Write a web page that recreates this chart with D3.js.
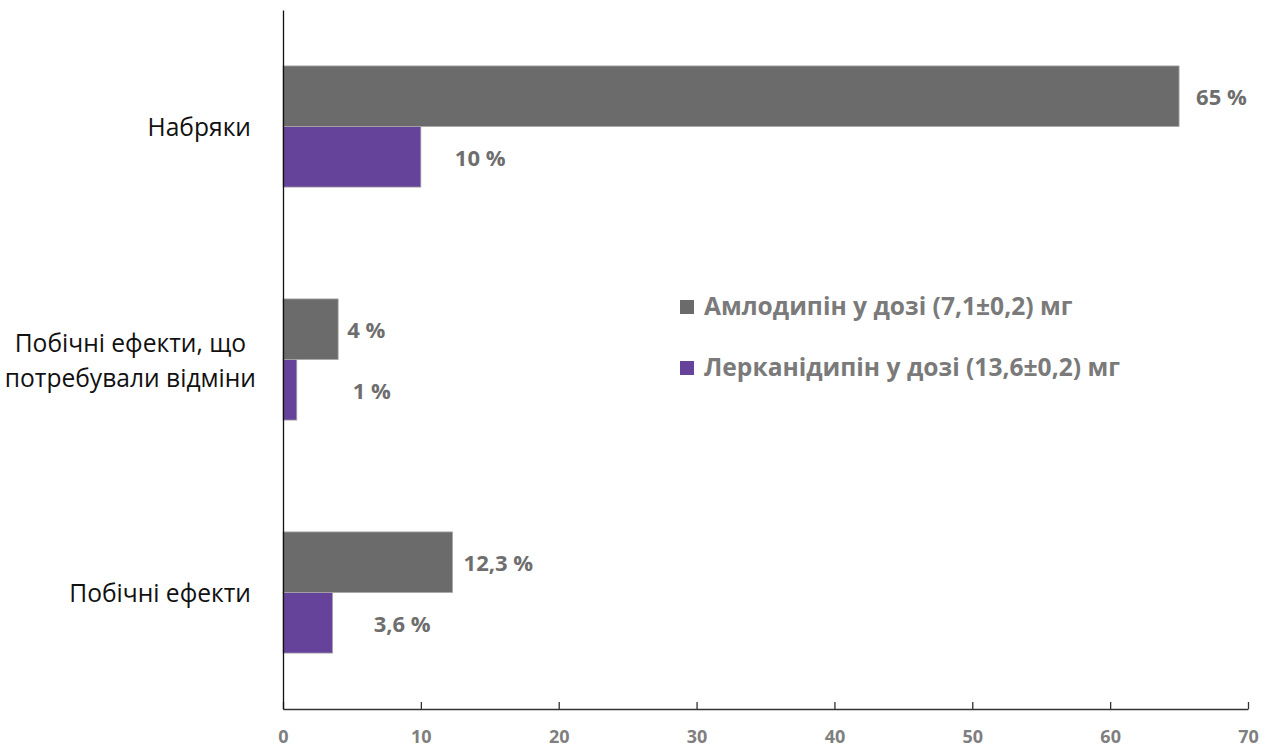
<!DOCTYPE html>
<html>
<head>
<meta charset="utf-8">
<script src="https://cdn.jsdelivr.net/npm/d3@7"></script>
<style>
  html, body { margin: 0; padding: 0; background: #fff; }
  svg { display: block; }
</style>
</head>
<body>
<svg id="chart" width="1269" height="747"></svg>
<script>
// Categories (top to bottom) and the two series, in percent
const categories = ["Набряки", "Побічні ефекти, що потребували відміни", "Побічні ефекти"];
const categoryLines = [["Набряки"], ["Побічні ефекти, що", "потребували відміни"], ["Побічні ефекти"]];
const seriesNames = ["Амлодипін у дозі (7,1±0,2) мг", "Лерканідипін у дозі (13,6±0,2) мг"];
const amlodipine = [65, 4, 12.3];
const lercanidipine = [10, 1, 3.6];
const valueLabels = [["65 %", "4 %", "12,3 %"], ["10 %", "1 %", "3,6 %"]];
const xTicks = [0, 10, 20, 30, 40, 50, 60, 70];

// Horizontal nudge of each value label past its bar end (px)
const labelNudge = [[17, 9, 11], [34, 56, 41]];

const colors = ["#6b6b6b", "#66439a"];
const FONT = "'Open Sans', Lato, sans-serif";

const svg = d3.select("#chart");
const margin = { left: 283, right: 21, top: 10, bottom: 38 };
const W = 1269, H = 747;

const x = d3.scaleLinear().domain([0, 70]).range([margin.left, W - margin.right]);
const y = d3.scaleBand().domain(categories).range([margin.top, H - margin.bottom]).paddingInner(0.48).paddingOuter(0.24);
const sub = d3.scaleBand().domain([0, 1]).range([0, y.bandwidth()]);

const series = [amlodipine, lercanidipine];

// Bars
series.forEach((vals, s) => {
  svg.append("g").selectAll("rect")
    .data(vals)
    .join("rect")
    .attr("x", x(0))
    .attr("y", (d, i) => y(categories[i]) + sub(s))
    .attr("width", d => x(d) - x(0))
    .attr("height", sub.bandwidth())
    .attr("fill", colors[s])
    .attr("stroke", "#a8a8a8")
    .attr("stroke-width", 0.8);
});

// Value labels
series.forEach((vals, s) => {
  svg.append("g").selectAll("text")
    .data(vals)
    .join("text")
    .attr("x", (d, i) => x(d) + labelNudge[s][i])
    .attr("y", (d, i) => y(categories[i]) + sub(s) + sub.bandwidth() / 2 + 3)
    .attr("dominant-baseline", "middle")
    .attr("font-family", FONT)
    .attr("font-weight", "bold")
    .attr("font-size", 22)
    .attr("fill", "#6e6e6e")
    .text((d, i) => valueLabels[s][i]);
});

// X axis: ticks pointing up into the plot
const xAxis = d3.axisBottom(x).tickValues(xTicks).tickSizeInner(-7).tickSizeOuter(0).tickPadding(21);
const gx = svg.append("g").attr("transform", `translate(0,${H - margin.bottom})`).call(xAxis);
gx.select(".domain").attr("stroke", "#333").attr("stroke-width", 1.3);
gx.selectAll(".tick line").attr("stroke", "#333").attr("stroke-width", 1.3);
gx.selectAll(".tick text")
  .attr("font-family", FONT)
  .attr("font-weight", "bold")
  .attr("font-size", 18)
  .attr("fill", "#7f7f7f");

// Y axis line
const yAxis = d3.axisLeft(y).tickSize(0).tickFormat("");
const gy = svg.append("g").attr("transform", `translate(${margin.left},0)`).call(yAxis);
gy.select(".domain").attr("stroke", "#111").attr("stroke-width", 1.3);

// Category labels: single lines end at labelRight; wrapped lines are
// centred within a slightly wider block
const labelRight = 251;
const wrapExtra = 5;
categories.forEach((c, i) => {
  const lines = categoryLines[i];
  const cy = y(c) + y.bandwidth() / 2 + 3;
  const lh = 35;
  const g = svg.append("g");
  const texts = lines.map((t, k) => g.append("text")
    .attr("y", cy + (k - (lines.length - 1) / 2) * lh)
    .attr("dominant-baseline", "middle")
    .attr("font-family", FONT)
    .attr("font-size", 24.6)
    .attr("fill", "#111")
    .text(t));
  const widths = texts.map(t => t.node().getComputedTextLength());
  const maxW = d3.max(widths);
  const right = labelRight + (lines.length > 1 ? wrapExtra : 0);
  texts.forEach(t => t.attr("x", right - maxW / 2).attr("text-anchor", "middle"));
});

// Legend
const legend = svg.append("g").attr("transform", "translate(680,300)");
seriesNames.forEach((name, s) => {
  const row = legend.append("g").attr("transform", `translate(0,${s * 61})`);
  row.append("rect").attr("width", 14).attr("height", 14).attr("fill", colors[s]);
  row.append("text")
    .attr("x", 24).attr("y", 8)
    .attr("dominant-baseline", "middle")
    .attr("font-family", FONT)
    .attr("font-weight", "bold")
    .attr("font-size", 24.6)
    .attr("fill", "#7a7a7a")
    .text(name);
});
</script>
</body>
</html>
